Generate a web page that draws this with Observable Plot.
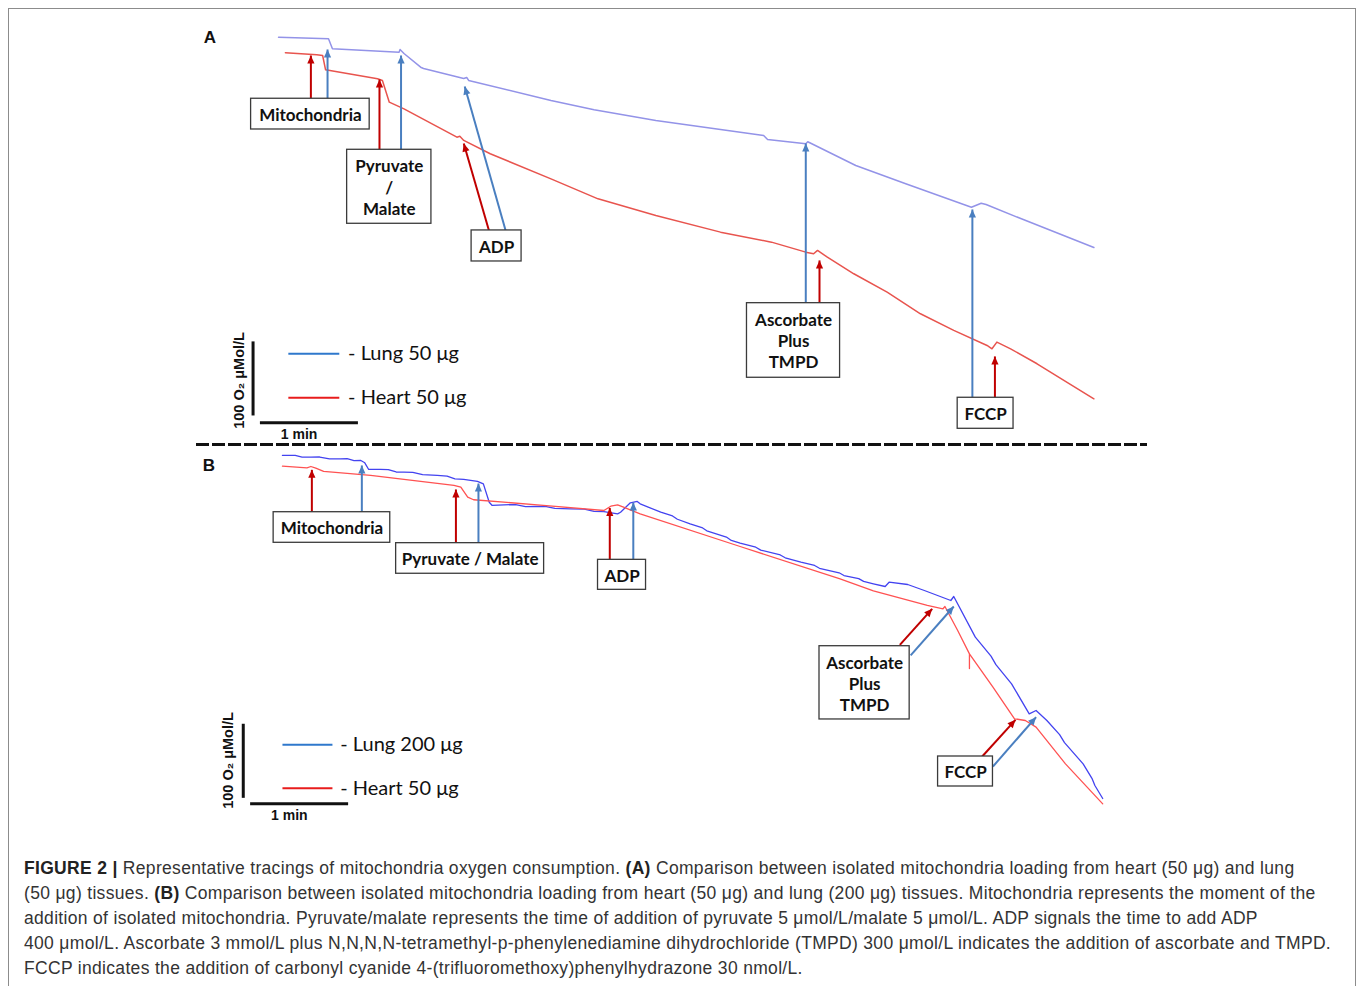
<!DOCTYPE html>
<html><head><meta charset="utf-8">
<script src="https://cdn.jsdelivr.net/npm/d3@7"></script>
<script src="https://cdn.jsdelivr.net/npm/@observablehq/plot@0.6"></script>
<style>
body{margin:0;background:#fff;}
#fig{position:absolute;left:8px;top:8px;width:1346px;height:1000px;border:1px solid #8c8c8c;box-sizing:content-box;}
#fig svg{display:block;}
#caption{position:absolute;left:15px;top:847px;font-family:"Liberation Sans",Arial,sans-serif;font-size:17.5px;letter-spacing:0.32px;line-height:25px;color:#333;white-space:nowrap;}
#caption b{color:#222;}
</style></head><body>
<div id="fig"><div id="panelA"></div><div id="panelB"></div><div id="caption"></div></div>
<script>
// ---------- DATA (time in min, O2 in µmol/L on an arbitrary offset) ----------
// Panel A traces
const lungA = [[-0.02,562.6],[0.49,560.4],[0.53,546.9],[1.21,542.4],[1.22,546],[1.26,540.6],[1.43,522.1],[1.46,520.4],[1.87,506.9],[1.90,508.2],[1.92,504.2],[2.76,477.2],[3.20,464.6],[3.83,450.2],[4.93,429.9],[4.97,424.5],[5.36,418.7],[5.38,421.4],[5.87,389.4],[6.38,364.7],[7.05,333.1],[7.15,338.5],[7.20,336.8],[7.56,317.4],[8.30,278.7]];
const heartA = [[0.05,541.5],[0.37,538.8],[0.43,537.9],[0.46,518.6],[0.99,506.4],[1.04,504.2],[1.11,474.9],[1.26,465.9],[1.80,427.6],[1.83,428.8],[1.87,423.2],[2.14,405.2],[2.76,371.4],[3.24,344.4],[3.83,321.9],[4.49,299.4],[5.01,285.9],[5.36,272.4],[5.44,270.2],[5.48,274.7],[5.58,265.6],[5.85,243.2],[6.19,218.3],[6.53,189.2],[6.87,166.7],[7.21,146.4],[7.26,141.9],[7.31,150.9],[7.45,141.9],[7.72,121.7],[8.30,74.4]];
// Panel B traces
const lungB = [[0.02,587.9],[0.15,587.9],[0.22,585.6],[0.31,585.6],[0.40,585.8],[0.50,583.4],[0.61,583.4],[0.68,583.5],[0.75,581.0],[0.82,581.1],[0.86,578],[0.90,569],[1.02,569],[1.10,568.8],[1.18,565.6],[1.26,565.3],[1.35,565.1],[1.45,561.9],[1.60,560.9],[1.70,559.9],[1.78,556.4],[1.87,555.5],[2.01,552.8],[2.07,549.6],[2.13,524.8],[2.16,520.4],[2.28,521.3],[2.40,521.5],[2.50,518.9],[2.62,519],[2.70,519.3],[2.80,516.5],[2.96,515.9],[3.10,515.4],[3.20,512.4],[3.30,512.2],[3.44,509.1],[3.47,511.3],[3.57,524],[3.64,525.8],[3.67,522.6],[3.88,511.3],[4.00,506.2],[4.05,501.8],[4.18,495.6],[4.30,490.6],[4.35,486.2],[4.55,477.8],[4.60,473.2],[4.69,469.5],[4.85,464.0],[4.90,460.1],[5.10,453.6],[5.15,449.8],[5.31,443.8],[5.45,439.4],[5.50,435.6],[5.70,429.5],[5.75,425.8],[5.90,421.6],[5.95,417.9],[6.05,414.6],[6.17,411],[6.21,416.8],[6.40,413.7],[6.57,405.6],[6.84,392.1],[6.87,397.5],[7.09,342.6],[7.25,317],[7.30,305.5],[7.46,279.6],[7.64,239.1],[7.71,243.6],[7.82,230.1],[7.95,211],[8.00,200.3],[8.19,171.6],[8.28,152],[8.31,142.3],[8.39,124.8]];
const heartB = [[0.02,573.4],[0.27,571.2],[0.31,573],[0.36,570.7],[0.44,566.3],[0.92,560.9],[1.77,547.4],[1.84,545.1],[1.91,531.6],[1.97,528.1],[2.62,521.3],[3.30,513.6],[3.37,519.4],[3.44,521.3],[3.50,518.1],[3.67,509.1],[4.69,465],[5.71,421.4],[6.05,405.2],[6.60,385.4],[6.76,380.9],[6.78,384],[6.91,351.6],[7.03,320.1],[7.03,300.3],[7.03,320.1],[7.27,275.1],[7.49,232.4],[7.60,230.1],[7.71,221.1],[8.01,171.6],[8.39,117.6]];

// Event labels
const eventsA = ["Mitochondria", "Pyruvate\n/\nMalate", "ADP", "Ascorbate\nPlus\nTMPD", "FCCP"];
const eventsB = ["Mitochondria", "Pyruvate / Malate", "ADP", "Ascorbate\nPlus\nTMPD", "FCCP"];
// Label boxes: [t1, t2, o2 top, o2 bottom]
const boxesA = [[-0.30,0.91,479.5,438],[0.68,1.54,410.6,310.7],[1.95,2.46,301.7,259.8],[4.76,5.71,203.5,102.8],[6.91,7.48,75.8,33.9]];
const boxesB = [[-0.07,1.12,511.3,470],[1.18,2.69,469.5,428.2],[3.24,3.73,447,406.5],[5.50,6.42,330.4,231.5],[6.71,7.27,181.5,141]];
// Arrows: [t tail, o2 tail, t tip, o2 tip]
const lungArrowsA = [[0.48,479.9,0.48,546],[1.23,409.7,1.23,537.9],[2.30,300.3,1.88,496],[5.36,203.1,5.36,419.1],[7.06,75.8,7.06,330]];
const heartArrowsA = [[0.31,479.9,0.31,537.9],[1.01,409.7,1.01,505.5],[2.13,300.3,1.87,419.1],[5.50,203.1,5.50,261.2],[7.29,75.8,7.29,131.6]];
const lungArrowsB = [[0.83,511.3,0.83,574.4],[2.02,469.5,2.02,550],[3.60,447,3.60,524.4],[6.43,317.9,6.87,384],[7.27,168,7.71,234.6]];
const heartArrowsB = [[0.32,511.3,0.32,568.5],[1.79,469.5,1.79,542],[3.36,447,3.36,517],[6.32,332.3,6.65,380.9],[7.16,181.5,7.50,231]];
// Legends
const seriesA = ["- Lung 50 μg", "- Heart 50 μg"];
const seriesB = ["- Lung 200 μg", "- Heart 50 μg"];
const scaleLabels = ["1 min", "100 O₂ μMol/L"];
const panelNames = ["A", "B"];
// Scale bars: 100 µmol/L and 1 min; [t of vertical bar, o2 low, t start of time bar, o2 of time bar]
const scaleA = [-0.28, 51.9, -0.21, 42.0];
const scaleB = [-0.38, 125.7, -0.31, 117.6];
// Legend anchor: [t line start, t line end, o2 lung row, o2 heart row, t text]
const legendA = [0.08, 0.60, 135.2, 75.8, 0.69];
const legendB = [0.02, 0.53, 197.3, 138.7, 0.61];
// Panel letter and scale text anchors: [tLetter, o2Letter, tMin, o2Min, tRot, o2Rot]
const textPosA = [-0.72, 562.2, 0.19, 26.3, -0.42, 99.2];
const textPosB = [-0.73, 574.4, 0.09, 101.9, -0.53, 176.1];

const caption = [
  [["b","FIGURE 2 | "],["","Representative tracings of mitochondria oxygen consumption. "],["b","(A)"],[""," Comparison between isolated mitochondria loading from heart (50 μg) and lung"]],
  [["","(50 μg) tissues. "],["b","(B)"],[""," Comparison between isolated mitochondria loading from heart (50 μg) and lung (200 μg) tissues. Mitochondria represents the moment of the"]],
  [["","addition of isolated mitochondria. Pyruvate/malate represents the time of addition of pyruvate 5 μmol/L/malate 5 μmol/L. ADP signals the time to add ADP"]],
  [["","400 μmol/L. Ascorbate 3 mmol/L plus N,N,N,N-tetramethyl-p-phenylenediamine dihydrochloride (TMPD) 300 μmol/L indicates the addition of ascorbate and TMPD."]],
  [["","FCCP indicates the addition of carbonyl cyanide 4-(trifluoromethoxy)phenylhydrazone 30 nmol/L."]]
];

// ---------- DRAWING ----------
const W = 1346, PX_PER_MIN = 98, T0_PX = 271;
const xDomain = [-T0_PX / PX_PER_MIN, (W - T0_PX) / PX_PER_MIN];
const ARROW_BLUE = "#4a7fc0", ARROW_RED = "#c00000";
const LABEL_FONT = "Lato, 'Open Sans', sans-serif";

function triHead(color, context) {
  const doc = (context && context.document) || document;
  const ns = "http://www.w3.org/2000/svg";
  const m = doc.createElementNS(ns, "marker");
  m.setAttribute("viewBox", "-7 -4 10 8");
  m.setAttribute("markerWidth", "10");
  m.setAttribute("markerHeight", "8");
  m.setAttribute("markerUnits", "userSpaceOnUse");
  m.setAttribute("orient", "auto");
  m.setAttribute("refX", "2");
  m.setAttribute("refY", "0");
  m.setAttribute("fill", color);
  m.setAttribute("stroke", "none");
  const p = doc.createElementNS(ns, "path");
  p.setAttribute("d", "M-6,-3.6L2,0L-6,3.6Z");
  m.appendChild(p);
  return m;
}

const pts = arr => arr.map(([t, o2]) => ({t, o2}));
const arw = arr => arr.map(([t1, o1, t2, o2]) => ({t1, o1, t2, o2}));
const bxs = (arr, labels) => arr.map(([t1, t2, o1, o2], i) => ({t1, t2, o1, o2, label: labels[i]}));

function panelMarks(p) {
  const [vt, vlow, ht, hy] = p.scale;
  const [l1, l2, yl, yh, lt] = p.legend;
  const [tL, oL, tM, oM, tR, oR] = p.textPos;
  const boxes = bxs(p.boxes, p.events);
  return [
    Plot.line(pts(p.lung), {x: "t", y: "o2", stroke: p.lungColor, strokeWidth: p.traceWidth}),
    Plot.line(pts(p.heart), {x: "t", y: "o2", stroke: p.heartColor, strokeWidth: p.traceWidth}),
    Plot.link(arw(p.lungArrows), {x1: "t1", y1: "o1", x2: "t2", y2: "o2", stroke: ARROW_BLUE, strokeWidth: 2, markerEnd: triHead}),
    Plot.link(arw(p.heartArrows), {x1: "t1", y1: "o1", x2: "t2", y2: "o2", stroke: ARROW_RED, strokeWidth: 2, markerEnd: triHead}),
    Plot.rect(boxes, {x1: "t1", x2: "t2", y1: "o1", y2: "o2", fill: "white", stroke: "#3b3b3b", strokeWidth: 1.3}),
    Plot.text(boxes, {x: d => (d.t1 + d.t2) / 2, y: d => (d.o1 + d.o2) / 2, text: "label", fontFamily: LABEL_FONT, fontWeight: "bold", fontSize: 17, lineHeight: 1.24, fill: "#111"}),
    // scale bars (100 µmol/L vertical, 1 min horizontal)
    Plot.link([{t: vt, a: vlow, b: vlow + 100}], {x1: "t", x2: "t", y1: "a", y2: "b", stroke: "#111", strokeWidth: 3}),
    Plot.link([{a: ht, b: ht + 1, y: hy}], {x1: "a", x2: "b", y1: "y", y2: "y", stroke: "#111", strokeWidth: 3}),
    Plot.text([scaleLabels[0]], {x: tM, y: oM, text: d => d, fontFamily: "'Liberation Sans', Arial, sans-serif", fontWeight: "bold", fontSize: 14, fill: "#111"}),
    Plot.text([scaleLabels[1]], {x: tR, y: oR, text: d => d, rotate: -90, fontFamily: "'Liberation Sans', Arial, sans-serif", fontWeight: "bold", fontSize: 14.5, fill: "#111"}),
    // legend
    Plot.link([{a: l1, b: l2, y: yl}], {x1: "a", x2: "b", y1: "y", y2: "y", stroke: "#2f78cc", strokeWidth: 2}),
    Plot.link([{a: l1, b: l2, y: yh}], {x1: "a", x2: "b", y1: "y", y2: "y", stroke: "#e81c1c", strokeWidth: 2}),
    Plot.text([{s: p.series[0], y: yl}, {s: p.series[1], y: yh}], {x: lt, y: "y", text: "s", textAnchor: "start", fontFamily: LABEL_FONT, fontSize: 20, fill: "#111"}),
    Plot.text([p.name], {x: tL, y: oL, text: d => d, fontFamily: "'Liberation Sans', Arial, sans-serif", fontWeight: "bold", fontSize: 17, fill: "#111"})
  ];
}

const plotA = Plot.plot({
  width: W, height: 437,
  marginLeft: 188, marginRight: 210, marginTop: 0, marginBottom: 2,
  x: {domain: xDomain, range: [0, W], axis: null},
  y: {domain: [10, 600], range: [437, 0], axis: null},
  style: {background: "transparent", overflow: "visible"},
  marks: [
    ...panelMarks({lung: lungA, heart: heartA, lungColor: "#9393e8", heartColor: "#e8544e", traceWidth: 1.5,
      lungArrows: lungArrowsA, heartArrows: heartArrowsA, boxes: boxesA, events: eventsA,
      scale: scaleA, legend: legendA, textPos: textPosA, series: seriesA, name: panelNames[0]}),
    Plot.frame({anchor: "bottom", stroke: "#111", strokeWidth: 3, strokeDasharray: "10,6"})
  ]
});
const plotB = Plot.plot({
  width: W, height: 400,
  marginLeft: 0, marginRight: 0, marginTop: 0, marginBottom: 0,
  x: {domain: xDomain, range: [0, W], axis: null},
  y: {domain: [60, 600], range: [400, 0], axis: null},
  style: {background: "transparent", overflow: "visible"},
  marks: panelMarks({lung: lungB, heart: heartB, lungColor: "#4343f0", heartColor: "#ff5252", traceWidth: 1.3,
      lungArrows: lungArrowsB, heartArrows: heartArrowsB, boxes: boxesB, events: eventsB,
      scale: scaleB, legend: legendB, textPos: textPosB, series: seriesB, name: panelNames[1]})
});
document.getElementById("panelA").appendChild(plotA);
document.getElementById("panelB").appendChild(plotB);

const cap = document.getElementById("caption");
for (const line of caption) {
  const div = document.createElement("div");
  for (const [tag, txt] of line) {
    const el = document.createElement(tag === "b" ? "b" : "span");
    el.textContent = txt;
    div.appendChild(el);
  }
  cap.appendChild(div);
}
</script>
</body></html>
